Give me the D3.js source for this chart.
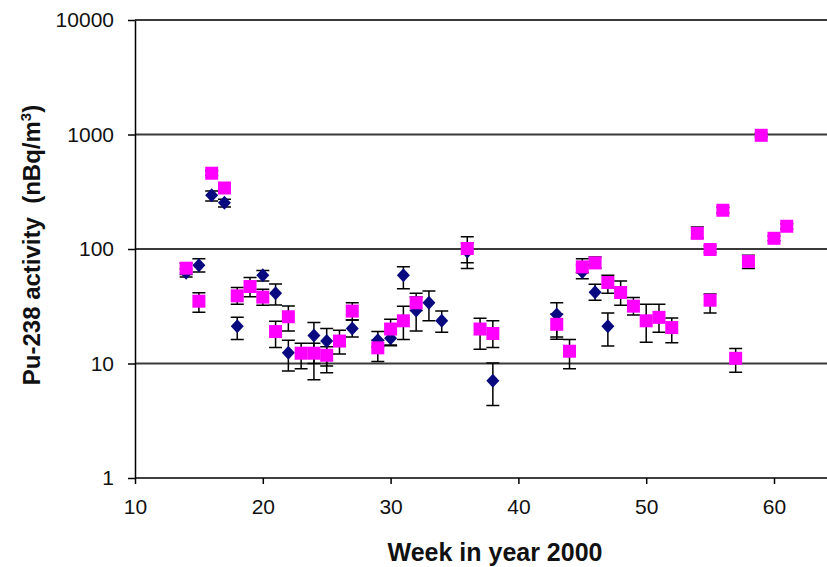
<!DOCTYPE html>
<html>
<head>
<meta charset="utf-8">
<script src="https://cdn.jsdelivr.net/npm/d3@7"></script>
<style>
  body { margin: 0; background: #fff; }
  text { font-family: Arial, "Liberation Sans", sans-serif; }
</style>
</head>
<body>
<div id="chart"></div>
<script>
// blue diamonds
var blueWeek = [14, 15, 16, 17, 18, 20, 21, 22, 24, 25, 27, 29, 30, 31, 32, 33, 34, 36, 38, 43, 45, 46, 47];
var blueVal  = [62, 72, 295, 253, 21.2, 59, 41, 12.4, 17.6, 15.7, 20.2, 16, 16.6, 59, 29, 34, 23.6, 95, 7.06, 26.8, 63, 42, 21.2];
var blueLo   = [57, 63, 263, 233, 16.2, 52.5, 32.4, 8.6, 7.2, 8.3, 17, 14, 14.5, 45, 19.2, 23.6, 18.7, 67.5, 4.3, 17, 55, 35.7, 14.2];
var blueHi   = [67, 82, 321, 272, 25.3, 65, 49.4, 16, 22.8, 20.2, 24, 19, 19, 70, 41, 43, 28.7, 128, 10.1, 33.9, 72, 49.3, 27.6];

// magenta squares
var pinkWeek = [14, 15, 16, 17, 18, 19, 20, 21, 22, 23, 24, 25, 26, 27, 29, 30, 31, 32, 36, 37, 38, 43, 44, 45, 46, 47, 48, 49, 50, 51, 52, 54, 55, 55, 56, 57, 58, 59, 60, 61];
var pinkVal  = [68, 35, 459, 341, 39, 47, 38, 19, 25.6, 12.3, 12.3, 11.8, 15.7, 28.7, 13.7, 20, 23.6, 33.9, 101, 20, 18.3, 22, 12.8, 69.8, 75.6, 51, 41.7, 31.7, 23.6, 25.3, 20.6, 137, 99, 35.7, 218, 11.1, 78, 984, 124, 158];
var pinkLo   = [60, 28, 440, 325, 33, 38.2, 32.3, 13.8, 19.2, 9, 10, 9.5, 12.1, 24, 10.4, 14.3, 16.2, 29, 76, 13.3, 13.8, 16.3, 9.0, 62, 68, 41, 32.3, 26.5, 15.3, 18.7, 15.2, 125, 93, 27.6, 205, 8.4, 67.5, 950, 118, 150];
var pinkHi   = [75, 41.4, 480, 360, 46.2, 56.3, 44.4, 23.4, 31.8, 15, 15, 14, 19.5, 34, 16, 24.3, 31.6, 38, 112, 24.8, 23.6, 27, 16.2, 82, 85, 59, 52.5, 37.8, 33, 33, 25, 156, 106, 40.4, 232, 13.5, 88, 1020, 130, 166];

var xTicks = [10, 20, 30, 40, 50, 60];
var yTicks = [1, 10, 100, 1000, 10000];

var width = 827, height = 567;

var x = d3.scaleLinear().domain([10, 65]).range([135, 837.9]);
var y = d3.scaleLog().domain([1, 10000]).range([478, 20]);

function rows(w, v, lo, hi) {
    return w.map(function (d, i) {
        return {week: d, value: v[i], lo: lo[i], hi: hi[i]};
    });
}
var blueData = rows(blueWeek, blueVal, blueLo, blueHi);
var pinkData = rows(pinkWeek, pinkVal, pinkLo, pinkHi);

var svg = d3.select("#chart")
    .append("svg")
    .attr("width", width)
    .attr("height", height);

// grid lines
svg.append("g")
    .selectAll("line")
    .data(yTicks.slice(1))
    .join("line")
    .attr("x1", x(10))
    .attr("x2", width)
    .attr("y1", d => y(d))
    .attr("y2", d => y(d))
    .attr("stroke", "#3a3a3a")
    .attr("stroke-width", 2);

// axes
var xAxis = d3.axisBottom(x)
    .tickValues(xTicks)
    .tickSize(6)
    .tickPadding(15)
    .tickSizeOuter(0);

var yAxis = d3.axisLeft(y)
    .tickValues(yTicks)
    .tickFormat(d3.format("d"))
    .tickSize(7)
    .tickPadding(14)
    .tickSizeOuter(0);

var gx = svg.append("g")
    .attr("transform", "translate(0," + y(1) + ")")
    .call(xAxis);
gx.select(".domain").attr("d", "M" + x(10) + ",0H" + width);

var gy = svg.append("g")
    .attr("transform", "translate(" + x(10) + ",0)")
    .call(yAxis);

svg.selectAll(".tick line").attr("stroke", "#000").attr("stroke-width", 1.5);
svg.selectAll(".domain").attr("stroke", "#000").attr("stroke-width", 1.5);
svg.selectAll(".tick text")
    .attr("fill", "#111")
    .style("font-size", "21px")
    .style("font-family", "Arial, 'Liberation Sans', sans-serif");

// error bars
function errorBars(data) {
    var g = svg.append("g")
        .attr("stroke", "#000")
        .attr("stroke-width", 1.5)
        .attr("fill", "none");
    g.selectAll("path")
        .data(data)
        .join("path")
        .attr("d", function (d) {
            var cx = x(d.week), yl = y(d.lo), yh = y(d.hi);
            return "M" + cx + "," + yl + "V" + yh +
                "M" + (cx - 6.5) + "," + yh + "H" + (cx + 6.5) +
                "M" + (cx - 6.5) + "," + yl + "H" + (cx + 6.5);
        });
}
errorBars(blueData);
errorBars(pinkData);

// blue diamonds
svg.append("g")
    .selectAll("path")
    .data(blueData)
    .join("path")
    .attr("transform", d => "translate(" + x(d.week) + "," + y(d.value) + ")")
    .attr("d", "M0,-7L6.5,0L0,7L-6.5,0Z")
    .attr("fill", "#0a0a80");

// magenta squares
svg.append("g")
    .selectAll("rect")
    .data(pinkData)
    .join("rect")
    .attr("x", d => x(d.week) - 6.5)
    .attr("y", d => y(d.value) - 6.5)
    .attr("width", 13)
    .attr("height", 13)
    .attr("fill", "#ff00ff");

// axis titles
svg.append("text")
    .attr("x", 495)
    .attr("y", 561)
    .attr("text-anchor", "middle")
    .style("font-size", "25px")
    .style("font-weight", "bold")
    .attr("fill", "#111")
    .text("Week in year 2000");

var yl = svg.append("text")
    .attr("transform", "translate(40,245) rotate(-90)")
    .attr("text-anchor", "middle")
    .style("font-size", "24px")
    .style("font-weight", "bold")
    .attr("fill", "#111");
yl.append("tspan").text("Pu-238 activity\u00a0\u00a0(nBq/m");
yl.append("tspan").attr("dy", -9).style("font-size", "15px").text("3");
yl.append("tspan").attr("dy", 9).text(")");
</script>
</body>
</html>
